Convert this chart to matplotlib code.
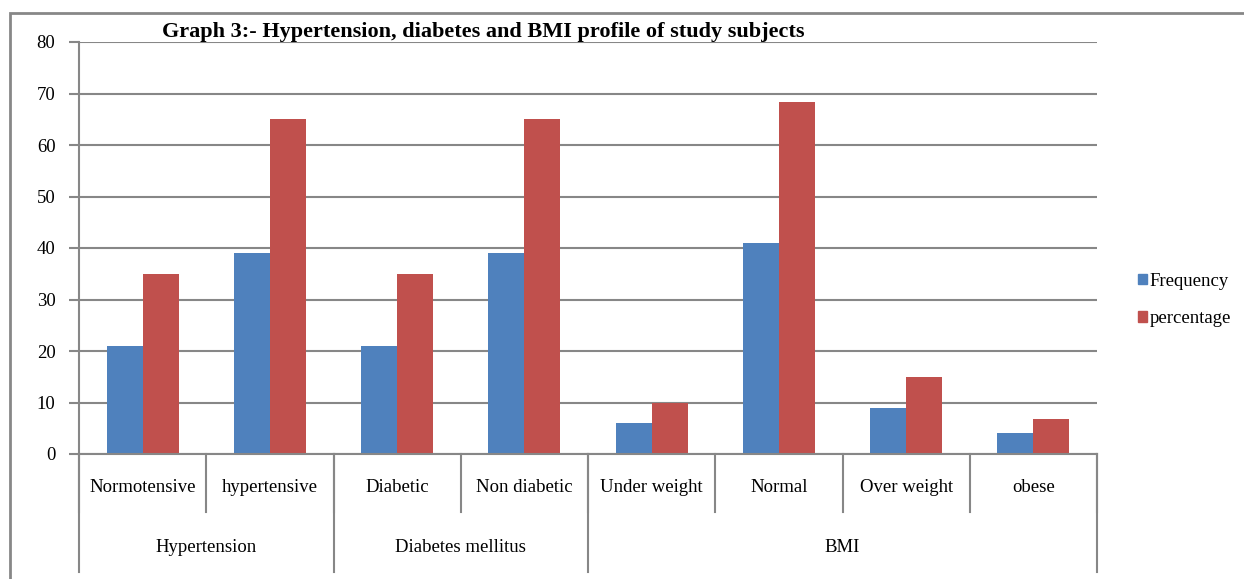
import matplotlib.pyplot as plt
import matplotlib.transforms as mtransforms
from matplotlib.patches import Patch, Rectangle
import numpy as np

plt.rcParams['font.family'] = ['Liberation Serif', 'DejaVu Serif']

subcats = ["Normotensive", "hypertensive", "Diabetic", "Non diabetic",
           "Under weight", "Normal", "Over weight", "obese"]
groups = ["Hypertension", "Diabetes mellitus", "BMI"]
group_sizes = [2, 2, 4]
frequency = [21, 39, 21, 39, 6, 41, 9, 4]
percentage = [35, 65, 35, 65, 10, 68.3, 15, 6.7]

blue = "#4f81bd"
red = "#c0504d"
grey = "#878787"

fig = plt.figure(figsize=(12.44, 5.79), dpi=100)
ax = fig.add_axes([79 / 1244, 1 - 454 / 579, (1097 - 79) / 1244, (454 - 42) / 579])

x = np.arange(len(subcats))
w = 0.283
ax.bar(x - w / 2, frequency, w, color=blue, label="Frequency")
ax.bar(x + w / 2, percentage, w, color=red, label="percentage")

ax.set_xlim(-0.5, len(subcats) - 0.5)
ax.set_ylim(0, 80)
ax.set_yticks(range(0, 81, 10))
ax.yaxis.grid(True, color=grey, linewidth=1.5)
ax.set_axisbelow(True)
ax.tick_params(axis='y', length=7, width=1.5, color=grey, labelsize=13.5, pad=10)
ax.set_xticks([])
for s in ["top", "right"]:
    ax.spines[s].set_visible(False)
for s in ["left", "bottom"]:
    ax.spines[s].set_color(grey)
    ax.spines[s].set_linewidth(1.5)

# two-level category axis
trans = mtransforms.blended_transform_factory(ax.transData, ax.transAxes)
lvl1 = -58 / 412
lvl2 = -118 / 412
for i in range(len(subcats) + 1):
    ax.plot([i - 0.5, i - 0.5], [0, lvl1], transform=trans, color=grey,
            linewidth=1.5, clip_on=False)
for i, name in enumerate(subcats):
    ax.text(i, -33 / 412, name, transform=trans, ha="center", va="center", fontsize=13.5)
edges = np.concatenate([[0], np.cumsum(group_sizes)]) - 0.5
for e in edges:
    ax.plot([e, e], [0, lvl2], transform=trans, color=grey, linewidth=1.5, clip_on=False)
for g, a, b in zip(groups, edges[:-1], edges[1:]):
    ax.text((a + b) / 2, -94 / 412, g, transform=trans, ha="center", va="center", fontsize=13.5)

fig.text(483 / 1244, 1 - 32 / 579,
         "Graph 3:- Hypertension, diabetes and BMI profile of study subjects",
         fontsize=16, fontweight="bold", ha="center", va="center")

handles = [Patch(color=blue), Patch(color=red)]
fig.legend(handles, ["Frequency", "percentage"], loc="center left",
           bbox_to_anchor=(1121 / 1244, 1 - 300 / 579), frameon=False,
           fontsize=13.5, handlelength=0.5, handleheight=0.5,
           handletextpad=0.12, labelspacing=1.1)

# outer chart frame
fig.patches.append(Rectangle((10 / 1244, -0.1), 1.2, 1 - 13 / 579 + 0.1,
                             transform=fig.transFigure, fill=False,
                             edgecolor=grey, linewidth=2))

fig.savefig("out.png", dpi=100)
